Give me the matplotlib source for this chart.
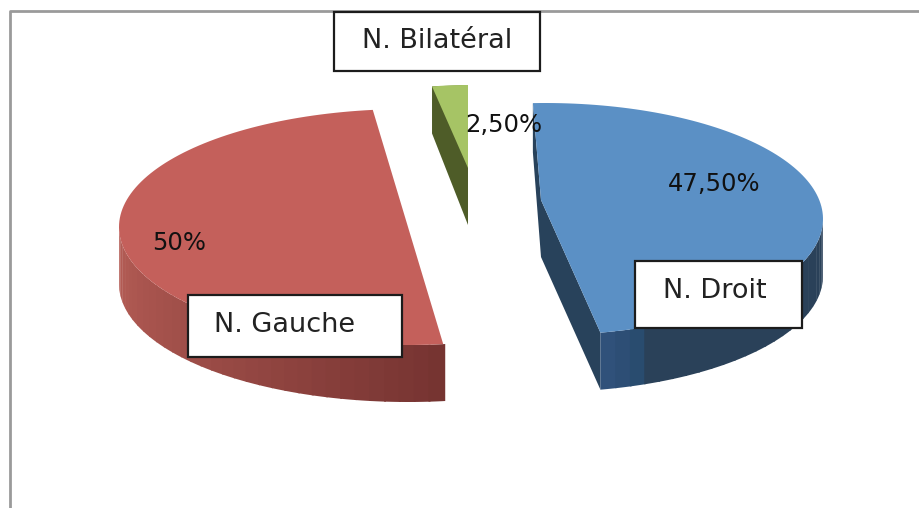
import numpy as np
import matplotlib
matplotlib.use("Agg")
import matplotlib.pyplot as plt
from matplotlib.colors import to_rgb
from matplotlib.patches import Polygon, Rectangle

labels = ["N. Droit", "N. Gauche", "N. Bilatéral"]
values = [47.5, 50.0, 2.5]
value_text = ["47,50%", "50%", "2,50%"]
top_colors = ["#5b90c5", "#c4605b", "#a6c465"]
cut_colors = ["#28425b", "#7a3430", "#4e5c28"]

# ellipse of each exploded slice, in pixels: cx, cy, rx, ry, end angle, apex
slices = [
    dict(cx=545, cy=219, rx=278, ry=116, end=92.5, apex=(541, 200)),
    dict(cx=408, cy=227, rx=289, ry=118, end=277, apex=(408, 227)),
    dict(cx=468, cy=203, rx=230, ry=118, end=99, apex=(468, 168)),
]
label_boxes = [(635, 261, 167, 67), (188, 295, 214, 62), (334, 12, 206, 59)]
label_pos = [(715, 291), (285, 325), (437, 41)]
value_pos = [(714, 184), (179, 243), (504, 125)]

fig = plt.figure(figsize=(9.2, 5.08), dpi=100)
ax = fig.add_axes([0, 0, 1, 1])
ax.set_xlim(0, 920)
ax.set_ylim(508, 0)
ax.axis("off")

# chart frame, cut off by the picture on the right and bottom
ax.plot([10.5, 10.5, 920], [508, 11, 11], color="#9a9a9a", lw=2, zorder=1)


def depth(y):
    # the far side of the pie looks a bit thinner
    return np.interp(y, [85, 170], [47, 57])


def arc(s, t0, t1, n=120):
    t = np.radians(np.linspace(t0, t1, n))
    return s["cx"] + s["rx"] * np.cos(t), s["cy"] - s["ry"] * np.sin(t)


def mix(c0, c1, f):
    return tuple(np.array(to_rgb(c0)) * (1 - f) + np.array(to_rgb(c1)) * f)


def wall_band(s, a, b, col):
    bx, by = arc(s, a, b, 6)
    pts = list(zip(bx, by)) + list(zip(bx[::-1], by[::-1] + 57))
    ax.add_patch(Polygon(pts, fc=col, ec="none", zorder=2))


def draw_slice(i):
    s = slices[i]
    t1 = s["end"]
    t0 = t1 - values[i] / 100 * 360
    x, y = arc(s, t0, t1)
    px, py = s["apex"]

    # cut faces
    if i == 0:
        ax.add_patch(Polygon([(x[-1], y[-1]), (px, py), (px, py + 57), (x[-1], y[-1] + depth(y[-1]))],
                             fc=cut_colors[i], ec="none", zorder=2))
        ax.add_patch(Polygon([(px, py), (x[0], y[0]), (x[0], y[0] + 57), (px, py + 57)],
                             fc=cut_colors[i], ec="none", zorder=2))
    if i == 2:
        ax.add_patch(Polygon([(x[0], y[0]), (x[-1], y[-1]), (x[-1], y[-1] + 47),
                              (px, py + 57), (px, py)],
                             fc=cut_colors[i], ec="none", zorder=2))

    # outer wall, in bands like the original gradient
    if i == 0:
        edges = np.linspace(t0, 0, 26)
        for a, b in zip(edges[:-1], edges[1:]):
            f = (a - t0) / (0 - t0)
            col = mix("#30517a", "#26496a", f / 0.12) if f < 0.12 else "#2a4159"
            wall_band(s, a, b + 0.4, col)
    if i == 1:
        edges = np.linspace(180, t1, 34)
        for a, b in zip(edges[:-1], edges[1:]):
            f = (a - 180) / (t1 - 180)
            wall_band(s, a, b + 0.4, mix("#b45c55", "#743230", f ** 1.2))

    # top face
    ax.add_patch(Polygon(list(zip(x, y)) + [(px, py)], fc=top_colors[i], ec="none", zorder=3))


for k in range(len(values)):
    draw_slice(k)

for k in range(len(values)):
    bx, by, bw, bh = label_boxes[k]
    ax.add_patch(Rectangle((bx, by), bw, bh, fc="white", ec="#1c1c1c", lw=1.6, zorder=5))
    ax.text(*label_pos[k], labels[k], fontsize=19.5, color="#222222", ha="center", va="center", zorder=6)
    ax.text(*value_pos[k], value_text[k], fontsize=17.5, color="#111111", ha="center", va="center", zorder=6)

fig.savefig("out.png", dpi=100)
